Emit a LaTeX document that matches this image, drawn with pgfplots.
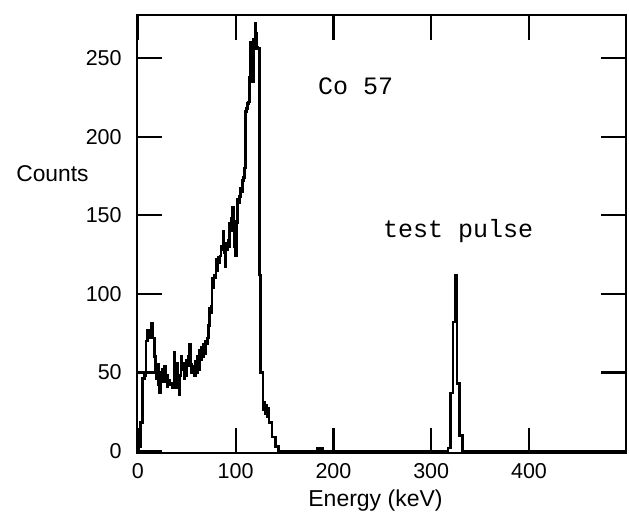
\documentclass[border=0pt]{standalone}
\usepackage{fontspec}
\setmainfont{Liberation Sans}
\newfontfamily\courierfont{Liberation Mono}
\usepackage{pgfplots}
\pgfplotsset{compat=1.18}

\begin{document}
\begin{tikzpicture}
\path[use as bounding box] (0pt,0pt) rectangle (629pt,527pt);
\begin{axis}[
    at={(137pt,74pt)}, anchor=south west,
    scale only axis,
    width=488.7pt, height=438pt,
    xmin=-0.9, xmax=498.9,
    ymin=-1.27, ymax=277.5,
    xtick={0,100,200,300,400},
    ytick={0,50,100,150,200,250},
    tick align=inside,
    major tick length=25pt,
    tick style={line width=2.2pt, black},
    axis line style={line width=1.8pt},
    /pgf/number format/assume math mode=true,
    tick label style={font=\fontsize{21.5}{23}\selectfont},
    yticklabel style={xshift=-11.8pt},
    xticklabel style={yshift=-6.5pt},
    xlabel={Energy (keV)},
    xlabel style={font=\fontsize{23}{25}\selectfont, at={(axis description cs:0.488,-0.1226)}, anchor=base},
    ylabel={Counts},
    ylabel style={font=\fontsize{22.8}{25}\selectfont, rotate=-90, at={(axis description cs:-0.2542,0.6194)}, anchor=base west},
    clip=false,
]
% Co-57 spectrum plus test pulse, counts per channel
\addplot[const plot, black, line width=2.6pt] coordinates {
(-0.9,0) (1,3) (2.5,18) (4.5,46) (6.5,48) (8.5,70) (10,77) (11.5,72) (13,77) (14,81)
(15.5,72) (17,60) (18,52) (19,46) (20,55) (21,42) (22,37) (23,50) (24,44) (25,52)
(26,47) (27,54) (28,44) (29,48) (30,41) (31,45) (32.5,42) (34,43) (35.5,40) (37,63)
(38,52) (39,40) (40,56) (41,44) (42,36) (43,48) (44,60) (45,52) (46,56) (47,46)
(48,55) (49,48) (50,58) (51,54) (52,60) (53,68) (54,55) (55,50) (56,54) (57,52)
(58,48) (59,57) (60,50) (61,60) (62,52) (63,64) (64,58) (65,66) (66,60) (67,68)
(68,62) (69,70) (70,68) (71,72) (72,80) (73,91) (74,88) (75,92) (76,110) (77,104)
(78,112) (79,110) (80,122) (81,115) (82,123) (83,120) (84,124) (85,130) (86,128) (87,140)
(88,126) (89,117) (90,132) (91,128) (92,134) (93,130) (94,145) (95,140) (96,148) (97,155)
(98,146) (99,130) (100,124) (101,145) (102,160) (103,158) (104,162) (105,167) (106,165) (107,172)
(108,174) (109,180) (110,216) (111,218) (112,221) (113,222) (114,238) (115,260) (116,250) (117,235)
(118,262) (119,256) (120,272) (121,266) (122,257) (123,256) (124.5,112) (125.5,50) (128,26) (129,31)
(130,24) (131,29) (132,22) (133,27) (134,18) (137,9) (141,3) (144,0)
(183,2) (185,0) (187,2) (189,0)
(317,2) (319.6,37) (322.3,82) (325,112) (326.4,43) (329,10) (331.7,0) (498.9,0)
};
\node[font=\courierfont\fontsize{25}{27}\selectfont, anchor=base west, inner sep=0pt] at (axis description cs:0.370,0.8174) {Co 57};
\node[font=\courierfont\fontsize{25}{27}\selectfont, anchor=base west, inner sep=0pt] at (axis description cs:0.503,0.4909) {test pulse};
\end{axis}
\end{tikzpicture}
\end{document}
